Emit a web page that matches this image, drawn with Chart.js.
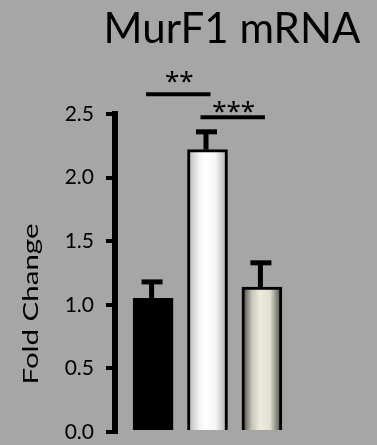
<!DOCTYPE html>
<html>
<head>
<meta charset="utf-8">
<script src="https://cdn.jsdelivr.net/npm/chart.js@4"></script>
<style>
  html, body { margin: 0; padding: 0; background: #a6a6a6; }
  #wrap { width: 377px; height: 445px; position: relative; }
</style>
</head>
<body>
<div id="wrap"><canvas id="myChart"></canvas></div>
<script>
// DATA
const groups = ["Group 1", "Group 2", "Group 3"];
const foldChange = [1.05, 2.22, 1.14];
const sem = [0.13, 0.14, 0.19];
const yTicks = [0, 0.5, 1.0, 1.5, 2.0, 2.5];
const sigPairs = [[0, 1], [1, 2]];
const sigLabels = ["**", "***"];
const sigLevels = [2.655, 2.474];

const FONT = "Lato, 'Open Sans', sans-serif";

// bar shading, left edge -> right edge
const barShades = [
  [[0, "#000000"], [1, "#000000"]],
  [[0, "#b4b4b4"], [0.3, "#f4f4f4"], [0.45, "#ffffff"], [0.7, "#f6f6f6"], [1, "#a8a8a8"]],
  [[0, "#3c3c34"], [0.25, "#c8c6b8"], [0.45, "#ecebdf"], [0.7, "#e2e0d2"], [1, "#45443c"]],
];

function barFill(c) {
  const chart = c.chart;
  if (!chart.chartArea || c.type !== "data") return "#000";
  const i = c.dataIndex;
  const cx = chart.scales.x.getPixelForValue(i + 1);
  const g = chart.ctx.createLinearGradient(cx - 20, 0, cx + 20, 0);
  barShades[i].forEach((s) => g.addColorStop(s[0], s[1]));
  return g;
}

// error bars, significance lines and the texts
const extras = {
  id: "extras",
  afterDatasetsDraw(chart) {
    const ctx = chart.ctx;
    const x = chart.scales.x;
    const y = chart.scales.y;
    ctx.save();
    ctx.strokeStyle = "#000";
    ctx.fillStyle = "#000";
    ctx.lineCap = "butt";

    foldChange.forEach((v, i) => {
      const cx = x.getPixelForValue(i + 1) - 1.5;
      const base = y.getPixelForValue(v);
      const top = y.getPixelForValue(v + sem[i]);
      ctx.lineWidth = 5;
      ctx.beginPath();
      ctx.moveTo(cx, base);
      ctx.lineTo(cx, top);
      ctx.stroke();
      ctx.beginPath();
      ctx.moveTo(cx - 10, top);
      ctx.lineTo(cx + 11, top);
      ctx.stroke();
    });

    const gap = [12, 5];
    ctx.font = "26px 'Noto Sans', sans-serif";
    ctx.textAlign = "center";
    ctx.textBaseline = "middle";
    sigPairs.forEach((p, k) => {
      const x1 = x.getPixelForValue(p[0] + 1) - 7;
      const x2 = x.getPixelForValue(p[1] + 1) + 3;
      const yy = y.getPixelForValue(sigLevels[k]);
      ctx.lineWidth = 4;
      ctx.beginPath();
      ctx.moveTo(x1, yy);
      ctx.lineTo(x2, yy);
      ctx.stroke();
      ctx.fillText(sigLabels[k], (x1 + x2) / 2 + 1, yy - gap[k]);
    });
    ctx.restore();
  },
  afterDraw(chart) {
    const ctx = chart.ctx;
    ctx.save();
    ctx.fillStyle = "#000";
    ctx.textAlign = "center";
    ctx.textBaseline = "alphabetic";
    ctx.font = "42px " + FONT;
    ctx.fillText("MurF1 mRNA", 232, 43);

    // the axis title is stretched along its length in the reference
    ctx.translate(38, 304);
    ctx.rotate(-Math.PI / 2);
    ctx.scale(1.34, 1);
    ctx.font = "22px " + FONT;
    ctx.fillText("Fold Change", 0, 0);
    ctx.restore();
  },
};

const ctx = document.getElementById("myChart");
const chart = new Chart(ctx, {
  type: "bar",
  data: {
    labels: groups,
    datasets: [
      {
        label: "Fold Change",
        data: groups.map((g, i) => ({ x: i + 1, y: foldChange[i] })),
        backgroundColor: barFill,
        borderColor: "#000",
        borderWidth: 3,
        barThickness: 40,
      },
    ],
  },
  options: {
    responsive: true,
    maintainAspectRatio: false,
    animation: false,
    layout: { padding: { top: 114, bottom: 13, left: 0, right: 77 } },
    plugins: { legend: { display: false }, tooltip: { enabled: false } },
    scales: {
      x: { type: "linear", display: false, offset: false, min: 0.3, max: 3.7 },
      y: {
        min: 0,
        max: 2.5,
        afterFit: (s) => {
          s.width = 115;
          s.paddingTop = 0;
          s.paddingBottom = 0;
        },
        afterBuildTicks: (s) => { s.ticks = yTicks.map((v) => ({ value: v })); },
        border: { color: "#000", width: 6 },
        grid: { drawOnChartArea: false, drawTicks: true, tickLength: 9, tickColor: "#000", lineWidth: 4 },
        ticks: {
          padding: 12,
          color: "#000",
          font: { family: FONT, size: 21 },
          callback: (v) => v.toFixed(1),
        },
      },
    },
  },
  plugins: [extras],
});
</script>
</body>
</html>
